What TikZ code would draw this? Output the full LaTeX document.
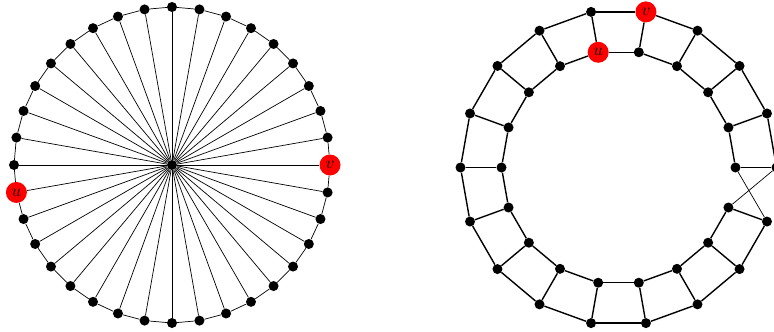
\documentclass[tikz,border=0pt]{standalone}
\usetikzlibrary{backgrounds}
\begin{document}
\begin{tikzpicture}[x=1pt,y=-1pt,
  blk/.style={circle,fill=black,inner sep=0pt,minimum size=10pt},
  redv/.style={circle,fill=red,inner sep=0pt,minimum size=21pt,font=\fontsize{16}{19}\selectfont},
  thinedge/.style={line width=0.7pt},
  thickedge/.style={line width=1.4pt}]
\useasboundingbox (0,0) rectangle (774,332);
% ---------- left: wheel ----------
\node[blk] (c) at (172,165) {};
\foreach \i in {0,...,35}{
  \pgfmathsetmacro\a{10*\i}
  \ifnum\i=0
    \node[redv] (w\i) at ({172+158*cos(\a)},{165-158*sin(\a)}) {$v$};
  \else\ifnum\i=19
    \node[redv] (w\i) at ({172+158*cos(\a)},{165-158*sin(\a)}) {$u$};
  \else
    \node[blk] (w\i) at ({172+158*cos(\a)},{165-158*sin(\a)}) {};
  \fi\fi
}
\begin{scope}[on background layer]
\foreach \i in {0,...,35}{
  \pgfmathtruncatemacro\j{mod(\i+1,36)}
  \draw[thinedge] (c) -- (w\i);
  \draw[thinedge] (w\i) -- (w\j);
}
\end{scope}
% ---------- right: ladder with twist ----------
\foreach \i in {0,...,17}{
  \pgfmathsetmacro\a{20*\i}
  \ifnum\i=4
    \node[redv] (o\i) at ({618.5+158*cos(\a)},{167.5-158*sin(\a)}) {$v$};
  \else
    \node[blk] (o\i) at ({618.5+158*cos(\a)},{167.5-158*sin(\a)}) {};
  \fi
  \ifnum\i=5
    \node[redv] (n\i) at ({618.5+117*cos(\a)},{167.5-117*sin(\a)}) {$u$};
  \else
    \node[blk] (n\i) at ({618.5+117*cos(\a)},{167.5-117*sin(\a)}) {};
  \fi
}
\begin{scope}[on background layer]
\foreach \i in {0,...,17}{
  \draw[thickedge] (n\i) -- (o\i);
}
\foreach \i in {0,...,16}{
  \pgfmathtruncatemacro\j{\i+1}
  \draw[thickedge] (o\i) -- (o\j);
  \draw[thickedge] (n\i) -- (n\j);
}
\draw[thinedge] (n0) -- (o17);
\draw[thinedge] (o0) -- (n17);
\end{scope}
\end{tikzpicture}
\end{document}
